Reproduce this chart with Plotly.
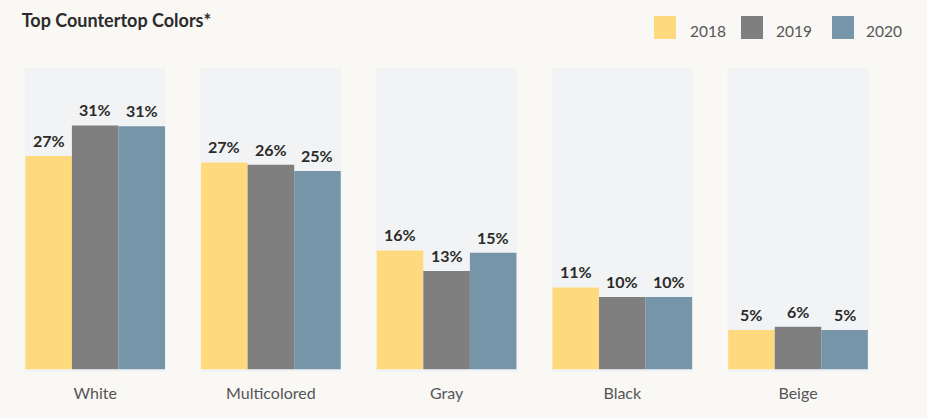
import plotly.graph_objects as go

categories = ["White", "Multicolored", "Gray", "Black", "Beige"]
years = ["2018", "2019", "2020"]
v2018 = [27.1, 26.3, 15.1, 10.4, 5.0]
v2019 = [31.0, 26.0, 12.5, 9.2, 5.4]
v2020 = [30.9, 25.2, 14.8, 9.2, 5.0]
lab2018 = ["27%", "27%", "16%", "11%", "5%"]
lab2019 = ["31%", "26%", "13%", "10%", "6%"]
lab2020 = ["31%", "25%", "15%", "10%", "5%"]
colors = ["#FFD97E", "#7F7F7F", "#7695A8"]

W, H = 927, 419
ML, MR, MT, MB = 0, 39, 68, 47
PW, PH = W - ML - MR, H - MT - MB
PAGE = "#F9F8F5"
PANEL = "#F2F3F4"
FONT = "Lato"
BARGAP = 0.205

# category centre at pixel 95.2 + 175.7*i
c0 = 95.2 - ML
step = 175.7
xr = [(0 - c0) / step, (PW - c0) / step]

def px(x):
    return (x - ML) / PW

def py(y):
    return (H - MB - y) / PH

fig = go.Figure()
annotations = []
bw = (1 - BARGAP) / len(years)
for k, (name, vals, labs, col) in enumerate(zip(years, [v2018, v2019, v2020], [lab2018, lab2019, lab2020], colors)):
    fig.add_trace(go.Bar(
        x=categories, y=vals, name=name, marker=dict(color=col, line=dict(width=0)),
        showlegend=False, hoverinfo="skip"))
    for i, (v, t) in enumerate(zip(vals, labs)):
        annotations.append(dict(xref="x", yref="y", x=i + (k - 1) * bw, y=v, text=t,
                                showarrow=False, xanchor="center", yanchor="bottom", yshift=4,
                                font=dict(family=FONT, size=16, color="#2B2B2B", weight="bold")))

shapes = []
for i in range(len(categories)):
    shapes.append(dict(type="rect", xref="x", yref="y", x0=i - 0.402, x1=i + 0.402,
                       y0=-0.35, y1=38.3, fillcolor=PANEL, line=dict(width=0), layer="below"))

leg_x = [654, 741, 832]
txt_x = [688, 774, 864]
for name, col, lx, tx in zip(years, colors, leg_x, txt_x):
    shapes.append(dict(type="rect", xref="paper", yref="paper", x0=px(lx), x1=px(lx + 22),
                       y0=py(39), y1=py(16), fillcolor=col, line=dict(width=0)))
    annotations.append(dict(xref="paper", yref="paper", x=px(tx), y=py(31), text=name,
                            showarrow=False, xanchor="left", yanchor="middle",
                            font=dict(family=FONT, size=15.5, color="#555555")))

fig.update_layout(
    width=W, height=H, paper_bgcolor=PAGE, plot_bgcolor=PAGE,
    margin=dict(l=ML, r=MR, t=MT, b=MB),
    barmode="group", bargap=BARGAP, bargroupgap=0,
    title=dict(text="<b>Top Countertop Colors*</b>", x=21.7 / W, xanchor="left", xref="container",
               y=1 - 21 / H, yanchor="middle", yref="container",
               font=dict(family=FONT, size=18, color="#2B2B2B")),
    shapes=shapes, annotations=annotations,
    xaxis=dict(showgrid=False, zeroline=False, showline=False, ticks="", range=xr,
               tickfont=dict(family=FONT, size=16, color="#555555"), ticklabelstandoff=10),
    yaxis=dict(range=[-0.35, 38.3], visible=False),
)
fig.write_html("out.html", config={"displayModeBar": False},
               post_script="document.body.style.margin='0';document.body.style.overflow='hidden';"
                           "document.body.style.background='#F9F8F5';")
